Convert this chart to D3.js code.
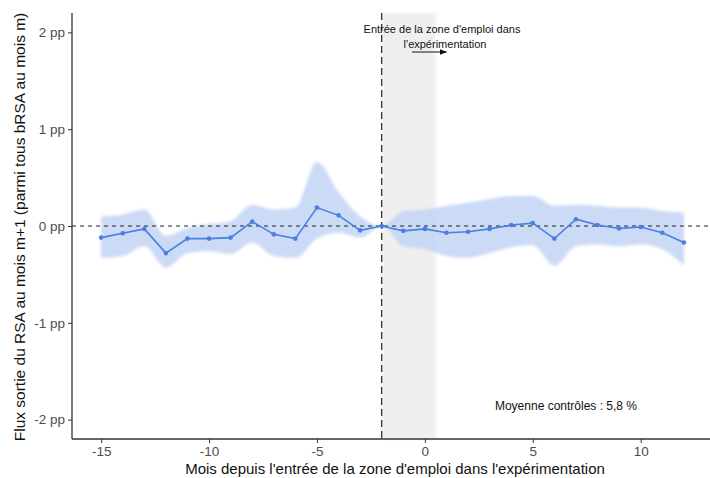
<!DOCTYPE html>
<html><head><meta charset="utf-8">
<script src="https://cdn.jsdelivr.net/npm/d3@7/dist/d3.min.js"></script>
<style>body{margin:0;background:#fff;}svg{display:block;font-family:"Liberation Sans",Arial,sans-serif;}</style>
</head><body>
<svg id="c" width="710" height="478"></svg>
<script>
const months = [-15,-14,-13,-12,-11,-10,-9,-8,-7,-6,-5,-4,-3,-2,-1,0,1,2,3,4,5,6,7,8,9,10,11,12];
const estimate = [-0.12,-0.075,-0.03,-0.28,-0.13,-0.13,-0.12,0.045,-0.086,-0.13,0.19,0.11,-0.045,0,-0.05,-0.03,-0.07,-0.06,-0.03,0.01,0.03,-0.13,0.07,0.01,-0.025,-0.01,-0.07,-0.17];
const upper = [0.10,0.12,0.17,-0.10,-0.02,0.02,0.05,0.22,0.17,0.19,0.66,0.35,0.10,0,0.155,0.17,0.21,0.24,0.28,0.31,0.31,0.21,0.22,0.21,0.19,0.19,0.155,0.14];
const lower = [-0.33,-0.31,-0.21,-0.43,-0.28,-0.26,-0.29,-0.17,-0.31,-0.33,-0.13,-0.07,-0.12,0,-0.21,-0.24,-0.31,-0.33,-0.28,-0.22,-0.20,-0.41,-0.21,-0.19,-0.21,-0.19,-0.24,-0.41];
const xTicks = [-15,-10,-5,0,5,10];
const yTicks = [-2,-1,0,1,2];
const yTickLabels = ["-2 pp","-1 pp","0 pp","1 pp","2 pp"];
const entryMonth = -2;
const shadeRange = [-2, 0.5];
const annotLines = ["Entrée de la zone d'emploi dans", "l'expérimentation"];
const controlText = "Moyenne contrôles : 5,8 %";
const xTitle = "Mois depuis l'entrée de la zone d'emploi dans l'expérimentation";
const yTitle = "Flux sortie du RSA au mois m+1 (parmi tous bRSA au mois m)";

const svg = d3.select("#c");
const x = d3.scaleLinear().domain([-16.35, 13.35]).range([72, 713]);
const y = d3.scaleLinear().domain([-2.2, 2.2]).range([439, 13]);
const data = months.map((m,i)=>({m, e:estimate[i], u:upper[i], l:lower[i]}));

const defs = svg.append("defs");
defs.append("filter").attr("id", "blur").attr("x", "-5%").attr("y", "-20%").attr("width", "110%").attr("height", "140%")
  .append("feGaussianBlur").attr("stdDeviation", 1.6);

// shaded period
svg.append("rect").attr("x", x(shadeRange[0])).attr("y", y(2.2))
  .attr("width", x(shadeRange[1]) - x(shadeRange[0])).attr("height", y(-2.2) - y(2.2))
  .attr("fill", "#ededed").attr("opacity", 0.85).attr("filter", "url(#blur)");

// ribbon
svg.append("path").datum(data)
  .attr("d", d3.area().x(d=>x(d.m)).y0(d=>y(d.l)).y1(d=>y(d.u)).curve(d3.curveMonotoneX))
  .attr("fill", "#c3d4f4").attr("opacity", 0.85).attr("filter", "url(#blur)");

// zero line
svg.append("line").attr("x1", x(-16.35)).attr("x2", 710).attr("y1", y(0)).attr("y2", y(0))
  .attr("stroke", "#222").attr("stroke-width", 1.2).attr("stroke-dasharray", "4,4");
// vertical entry line
svg.append("line").attr("x1", x(entryMonth)).attr("x2", x(entryMonth)).attr("y1", y(2.2)).attr("y2", y(-2.2))
  .attr("stroke", "#222").attr("stroke-width", 1.2).attr("stroke-dasharray", "7,4");

// line + points
svg.append("path").datum(data)
  .attr("d", d3.line().x(d=>x(d.m)).y(d=>y(d.e)))
  .attr("fill", "none").attr("stroke", "#4a7ee3").attr("stroke-width", 1.6);
svg.append("g").selectAll("circle").data(data).join("circle")
  .attr("cx", d=>x(d.m)).attr("cy", d=>y(d.e)).attr("r", 2.3).attr("fill", "#4a7ee3");

// axes
const xAxis = svg.append("g").attr("transform", `translate(0,${y(-2.2)})`)
  .call(d3.axisBottom(x).tickValues(xTicks).tickSize(4).tickPadding(3).tickFormat(d=>d<0?"-"+Math.abs(d):d));
const yAxis = svg.append("g").attr("transform", `translate(${x(-16.35)},0)`)
  .call(d3.axisLeft(y).tickValues(yTicks).tickSize(4).tickPadding(3).tickFormat((d,i)=>yTickLabels[i]));
[xAxis, yAxis].forEach(a=>{
  a.select(".domain").attr("stroke", "#333").attr("stroke-width", 1.3);
  a.selectAll(".tick line").attr("stroke", "#333");
  a.selectAll(".tick text").attr("fill", "#4d4d4d").style("font-size", "13.5px").style("font-family", "Liberation Sans, Arial, sans-serif");
});
xAxis.select(".domain").attr("d", `M${x(-16.35)},0H710`);
yAxis.select(".domain").attr("d", `M0,${y(2.2)}V${y(-2.2)}`);

// titles
svg.append("text").attr("x", 395).attr("y", 474).attr("text-anchor", "middle")
  .style("font-size", "15px").attr("fill", "#111").text(xTitle);
svg.append("text").attr("transform", `translate(25,${227}) rotate(-90)`).attr("text-anchor", "middle")
  .style("font-size", "15.5px").attr("fill", "#111").text(yTitle);

// annotations
svg.append("text").attr("x", 442).attr("y", 33).attr("text-anchor", "middle")
  .style("font-size", "11px").attr("fill", "#111").text(annotLines[0]);
svg.append("text").attr("x", 445).attr("y", 48).attr("text-anchor", "middle")
  .style("font-size", "11px").attr("fill", "#111").text(annotLines[1]);
defs.append("marker").attr("id", "arr").attr("viewBox", "0 0 10 10")
  .attr("refX", 9).attr("refY", 5).attr("markerWidth", 6).attr("markerHeight", 6).attr("orient", "auto")
  .append("path").attr("d", "M0,1L10,5L0,9Z").attr("fill", "#111");
svg.append("line").attr("x1", x(-0.6)).attr("x2", x(1)).attr("y1", 52).attr("y2", 52)
  .attr("stroke", "#111").attr("stroke-width", 1.2).attr("marker-end", "url(#arr)");
svg.append("text").attr("x", 566).attr("y", 410).attr("text-anchor", "middle")
  .style("font-size", "12px").attr("fill", "#111").text(controlText);
</script>
</body></html>
